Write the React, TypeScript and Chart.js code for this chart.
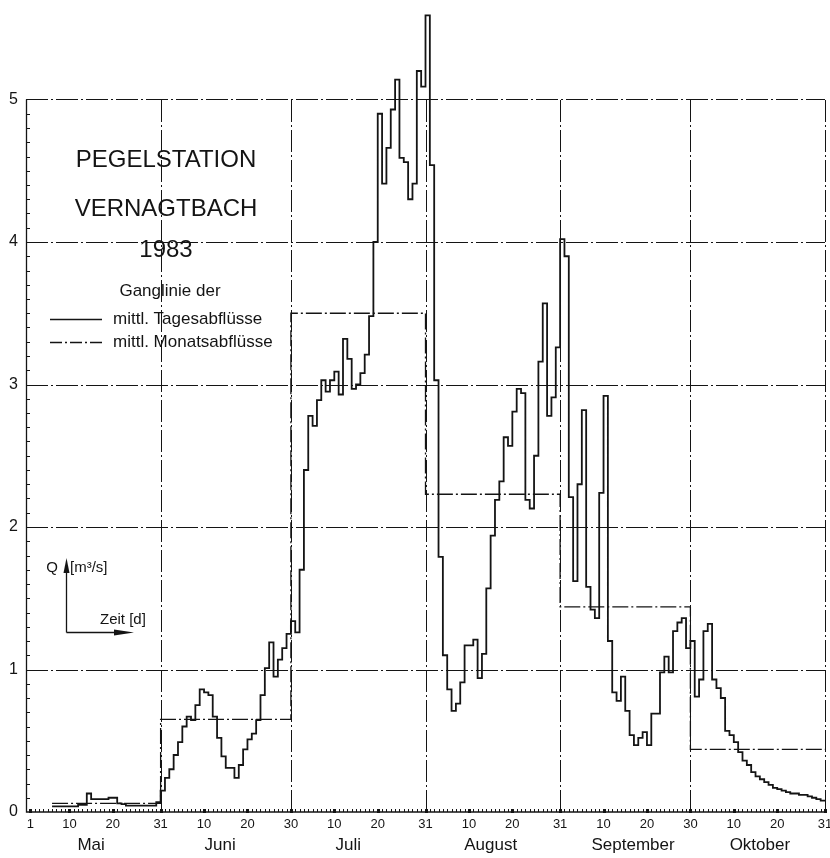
import React, { useEffect, useRef } from 'react';
import { Chart, registerables } from 'chart.js';

Chart.register(...registerables);

const FONT = '"Liberation Sans", Arial, sans-serif';

// Tagesabflüsse [m³/s]; index k = day position from 1. Mai (0) ... value k spans k..k+1
const dailyMai: (number | null)[] = [
  null, null, null, null, null, 0.04, 0.04, 0.04, 0.04, 0.04,
  0.04, 0.05, 0.05, 0.13, 0.09, 0.09, 0.09, 0.09, 0.10, 0.10,
  0.06, 0.055, 0.045, 0.045, 0.045, 0.045, 0.045, 0.045, 0.045, 0.07,
];
const dailyJuni: number[] = [
  0.15, 0.24, 0.30, 0.40, 0.49, 0.60, 0.67, 0.645, 0.75, 0.86,
  0.84, 0.82, 0.67, 0.52, 0.39, 0.31, 0.31, 0.24, 0.33, 0.44,
  0.51, 0.55, 0.645, 0.82, 1.01, 1.19, 0.95, 1.07, 1.15, 1.25,
];
const dailyJuli: number[] = [
  1.34, 1.26, 1.70, 2.40, 2.78, 2.71, 2.89, 3.03, 2.95, 3.03,
  3.09, 2.93, 3.32, 3.18, 2.97, 3.00, 3.08, 3.21, 3.48, 4.00,
  4.90, 4.41, 4.66, 4.93, 5.14, 4.59, 4.56, 4.30, 4.41, 5.20,
  5.09,
];
const dailyAugust: number[] = [
  5.59, 4.54, 3.03, 1.79, 1.10, 0.86, 0.71, 0.76, 0.91, 1.17,
  1.17, 1.21, 0.94, 1.11, 1.57, 1.94, 2.19, 2.32, 2.63, 2.57,
  2.81, 2.97, 2.94, 2.19, 2.13, 2.50, 3.16, 3.57, 2.78, 2.91,
  3.26,
];
const dailySeptember: number[] = [
  4.02, 3.90, 2.21, 1.62, 2.30, 2.82, 1.58, 1.42, 1.36, 2.24,
  2.92, 1.20, 0.84, 0.78, 0.95, 0.71, 0.54, 0.47, 0.52, 0.56,
  0.47, 0.69, 0.69, 0.98, 1.09, 0.98, 1.27, 1.33, 1.36, 1.15,
];
const dailyOktober: number[] = [
  1.20, 0.81, 0.93, 1.27, 1.32, 0.93, 0.87, 0.80, 0.57, 0.54,
  0.49, 0.42, 0.36, 0.33, 0.28, 0.25, 0.23, 0.21, 0.19, 0.17,
  0.16, 0.15, 0.14, 0.13, 0.13, 0.12, 0.12, 0.11, 0.10, 0.09,
  0.08,
];

// Monatsabflüsse [m³/s]
const monthStarts = [5, 30, 60, 91, 122, 152];
const monthEnd = 183;
const monthlyQ = [0.06, 0.65, 3.5, 2.23, 1.44, 0.44];

// Axes
const monthBounds = [30, 60, 91, 122, 152, 183];
const xTickPos = [0, 9, 19, 30, 40, 50, 60, 70, 80, 91, 101, 111, 122, 132, 142, 152, 162, 172, 183];
const xTickLabels = ['1', '10', '20', '31', '10', '20', '30', '10', '20', '31', '10', '20', '31', '10', '20', '30', '10', '20', '31'];
const monthNames = ['Mai', 'Juni', 'Juli', 'August', 'September', 'Oktober'];
const monthLabelPos = [14, 43.7, 73.2, 106, 138.8, 168];
const yTicks = [0, 1, 2, 3, 4, 5];
const gridTop = 5;

const INK = '#141414';
const GRID_DASH = [22, 3, 2, 3];
const MEAN_DASH = [16, 3, 2, 3];

const overlay = {
  id: 'overlay',
  beforeDatasetsDraw(chart: any) {
    const { ctx, scales } = chart;
    const xs = scales.x;
    const ys = scales.y;
    const X = (v: number) => xs.getPixelForValue(v);
    const Y = (v: number) => ys.getPixelForValue(v);
    ctx.save();
    ctx.strokeStyle = INK;
    ctx.lineWidth = 1;
    ctx.setLineDash(GRID_DASH);
    for (const t of yTicks) {
      if (t === 0) continue;
      ctx.beginPath();
      ctx.moveTo(X(-1), Math.round(Y(t)) + 0.5);
      ctx.lineTo(X(monthEnd), Math.round(Y(t)) + 0.5);
      ctx.stroke();
    }
    for (const b of monthBounds) {
      ctx.beginPath();
      ctx.moveTo(Math.round(X(b)) + 0.5, Y(0));
      ctx.lineTo(Math.round(X(b)) + 0.5, Y(gridTop));
      ctx.stroke();
    }
    ctx.setLineDash([]);
    ctx.lineWidth = 1.3;
    ctx.beginPath();
    ctx.moveTo(Math.round(X(-1)) + 0.5, Y(gridTop));
    ctx.lineTo(Math.round(X(-1)) + 0.5, Y(0));
    ctx.lineTo(X(monthEnd), Y(0));
    ctx.stroke();
    ctx.lineWidth = 1;
    for (let i = 1; i < gridTop * 10; i++) {
      const yy = Math.round(Y(i / 10)) + 0.5;
      ctx.beginPath();
      ctx.moveTo(X(-1), yy);
      ctx.lineTo(X(-1) + 4, yy);
      ctx.stroke();
    }
    for (let d = 0; d <= monthEnd; d++) {
      const xx = Math.round(X(d)) + 0.5;
      ctx.beginPath();
      ctx.moveTo(xx, Y(0));
      ctx.lineTo(xx, Y(0) - 3);
      ctx.stroke();
    }
    ctx.fillStyle = INK;
    for (const p of xTickPos) {
      ctx.fillRect(Math.round(X(p)) - 1, Y(0) - 3, 3, 4);
    }
    ctx.restore();
  },
  afterDraw(chart: any) {
    const { ctx, scales } = chart;
    const xs = scales.x;
    ctx.save();
    ctx.fillStyle = INK;
    ctx.strokeStyle = INK;
    ctx.textBaseline = 'alphabetic';
    ctx.textAlign = 'center';
    ctx.font = `24px ${FONT}`;
    ctx.fillText('PEGELSTATION', 166, 167);
    ctx.fillText('VERNAGTBACH', 166, 216);
    ctx.fillText('1983', 166, 257);
    ctx.font = `17px ${FONT}`;
    ctx.fillText('Ganglinie der', 170, 296);
    ctx.textAlign = 'left';
    ctx.fillText('mittl. Tagesabflüsse', 113, 324);
    ctx.fillText('mittl. Monatsabflüsse', 113, 347);
    ctx.lineWidth = 1.4;
    ctx.beginPath();
    ctx.moveTo(50, 319.5);
    ctx.lineTo(102, 319.5);
    ctx.stroke();
    ctx.setLineDash([12, 3, 2, 3]);
    ctx.beginPath();
    ctx.moveTo(50, 342.5);
    ctx.lineTo(103, 342.5);
    ctx.stroke();
    ctx.setLineDash([]);
    ctx.font = `15px ${FONT}`;
    ctx.textBaseline = 'middle';
    ctx.textAlign = 'center';
    ctx.fillText('Q', 52, 568);
    ctx.textAlign = 'left';
    ctx.fillText('[m³/s]', 70, 568);
    ctx.fillText('Zeit [d]', 100, 620);
    ctx.lineWidth = 1.3;
    ctx.beginPath();
    ctx.moveTo(66.5, 632.5);
    ctx.lineTo(66.5, 568);
    ctx.moveTo(66.5, 632.5);
    ctx.lineTo(120, 632.5);
    ctx.stroke();
    ctx.beginPath();
    ctx.moveTo(66.5, 558);
    ctx.lineTo(63.5, 573);
    ctx.lineTo(69.5, 573);
    ctx.closePath();
    ctx.fill();
    ctx.beginPath();
    ctx.moveTo(134, 632.5);
    ctx.lineTo(114, 629.5);
    ctx.lineTo(114, 635.5);
    ctx.closePath();
    ctx.fill();
    ctx.font = `17px ${FONT}`;
    ctx.textAlign = 'center';
    ctx.textBaseline = 'middle';
    monthNames.forEach((m, i) => {
      ctx.fillText(m, xs.getPixelForValue(monthLabelPos[i]), 845);
    });
    ctx.restore();
  },
};

export default function App() {
  const ref = useRef<HTMLCanvasElement | null>(null);
  useEffect(() => {
    if (!ref.current) return;
    const daily = [...dailyMai, ...dailyJuni, ...dailyJuli, ...dailyAugust, ...dailySeptember, ...dailyOktober];
    const dailyPts: { x: number; y: number }[] = [];
    daily.forEach((v, k) => {
      if (v !== null) dailyPts.push({ x: k, y: v as number });
    });
    dailyPts.push({ x: monthEnd, y: daily[daily.length - 1] as number });
    const meanPts = monthStarts.map((s, i) => ({ x: s, y: monthlyQ[i] }));
    meanPts.push({ x: monthEnd, y: monthlyQ[monthlyQ.length - 1] });

    const chart = new Chart(ref.current, {
      type: 'line',
      data: {
        datasets: [
          {
            label: 'mittl. Tagesabflüsse',
            data: dailyPts,
            stepped: 'before',
            borderColor: INK,
            borderWidth: 1.8,
            pointRadius: 0,
            fill: false,
            clip: 3,
          },
          {
            label: 'mittl. Monatsabflüsse',
            data: meanPts,
            stepped: 'before',
            borderColor: INK,
            borderWidth: 1.3,
            borderDash: MEAN_DASH,
            pointRadius: 0,
            fill: false,
          },
        ],
      },
      options: {
        animation: false,
        responsive: false,
        maintainAspectRatio: false,
        layout: { padding: { left: 0, right: 5, top: 14, bottom: 0 } },
        plugins: { legend: { display: false }, tooltip: { enabled: false }, title: { display: false } },
        scales: {
          x: {
            type: 'linear',
            min: -1,
            max: monthEnd,
            grid: { display: false, drawTicks: false },
            border: { display: false },
            afterBuildTicks: (s: any) => {
              s.ticks = xTickPos.map((v) => ({ value: v }));
            },
            afterFit: (s: any) => {
              s.height = 46;
              s.paddingLeft = 0;
              s.paddingRight = 0;
              s.paddingTop = 0;
              s.paddingBottom = 0;
            },
            ticks: {
              autoSkip: false,
              maxRotation: 0,
              minRotation: 0,
              padding: 5,
              color: INK,
              font: { family: FONT, size: 13 },
              callback: (_v: any, i: number) => xTickLabels[i],
            },
          },
          y: {
            type: 'linear',
            min: 0,
            max: 5.6,
            grid: { display: false, drawTicks: false },
            border: { display: false },
            afterBuildTicks: (s: any) => {
              s.ticks = yTicks.map((v) => ({ value: v }));
            },
            afterFit: (s: any) => {
              s.width = 26;
              s.paddingTop = 0;
              s.paddingBottom = 0;
              s.paddingLeft = 0;
              s.paddingRight = 0;
            },
            ticks: {
              padding: 8,
              color: INK,
              font: { family: FONT, size: 16 },
              callback: (v: any) => String(v),
            },
          },
        },
      },
      plugins: [overlay],
    });
    return () => chart.destroy();
  }, []);

  return (
    <div style={{ position: 'fixed', left: 0, top: 0, width: 830, height: 858, background: '#fff' }}>
      <canvas ref={ref} width={830} height={858} style={{ width: 830, height: 858, display: 'block' }} />
    </div>
  );
}
